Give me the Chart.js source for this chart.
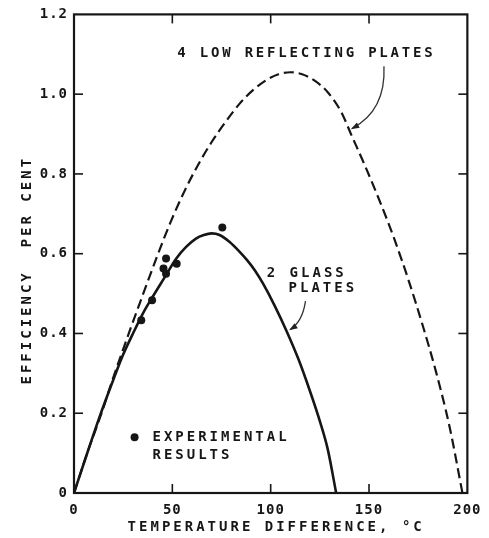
<!DOCTYPE html>
<html>
<head>
<meta charset="utf-8">
<script src="https://cdn.jsdelivr.net/npm/chart.js@4/dist/chart.umd.min.js"></script>
<style>
  html, body { margin: 0; padding: 0; background: #fff; }
  canvas { display: block; }
</style>
</head>
<body>
<canvas id="chart" width="489" height="538"></canvas>
<script>
// Collector efficiency (per cent) against temperature difference (°C)

// 2 glass plates (solid curve)
const glassTemp = [0, 7, 13, 20, 25, 30, 35, 40, 46, 52, 57, 62, 66, 70, 74, 79, 84, 88, 92, 96, 102, 108, 114, 120, 125, 129, 133.3];
const glassEff  = [0, 0.104, 0.191, 0.284, 0.347, 0.40, 0.45, 0.492, 0.54, 0.588, 0.617, 0.638, 0.647, 0.651, 0.647, 0.63, 0.606, 0.584, 0.558, 0.526, 0.47, 0.407, 0.337, 0.255, 0.18, 0.11, 0];

// 4 low reflecting plates (dashed curve)
const reflTemp = [0, 7, 14, 20, 28, 35, 42, 49, 56, 63, 70, 77, 84, 91, 98, 104, 110, 116, 122, 129, 136, 141, 148, 156, 163, 170, 177, 184, 191, 197.5];
const reflEff  = [0, 0.104, 0.20, 0.29, 0.402, 0.497, 0.59, 0.678, 0.755, 0.822, 0.88, 0.93, 0.975, 1.01, 1.036, 1.05, 1.055, 1.05, 1.035, 1.005, 0.954, 0.898, 0.82, 0.725, 0.635, 0.535, 0.425, 0.305, 0.165, 0];

// Experimental results (dots)
const expTemp = [75.4, 46.8, 52.2, 45.5, 46.8, 39.7, 34.2];
const expEff  = [0.666, 0.588, 0.575, 0.563, 0.55, 0.483, 0.433];

// Axis ticks
const xTickValues = [0, 50, 100, 150, 200];
const xTickLabels = ['0', '50', '100', '150', '200'];
const yTickValues = [0, 0.2, 0.4, 0.6, 0.8, 1.0, 1.2];
const yTickLabels = ['0', '0.2', '0.4', '0.6', '0.8', '1.0', '1.2'];

const INK = '#161616';
const MONO = '"DejaVu Sans Mono", "Liberation Mono", monospace';

function pairs(xs, ys) {
  return xs.map((x, i) => ({ x: x, y: ys[i] }));
}

function spacedText(ctx, text, x, y, align, spacing) {
  ctx.letterSpacing = spacing + 'px';
  const w = ctx.measureText(text).width;
  let sx = x;
  if (align === 'center') sx = x - (w - spacing) / 2;
  else if (align === 'right') sx = x - (w - spacing);
  ctx.textAlign = 'left';
  ctx.fillText(text, sx, y);
}

function arrow(ctx, p0, c, p1) {
  ctx.beginPath();
  ctx.moveTo(p0[0], p0[1]);
  ctx.quadraticCurveTo(c[0], c[1], p1[0], p1[1]);
  ctx.stroke();
  const dx = p1[0] - c[0], dy = p1[1] - c[1];
  const len = Math.hypot(dx, dy);
  const ux = dx / len, uy = dy / len;
  const hl = 7, hw = 3;
  ctx.beginPath();
  ctx.moveTo(p1[0] + ux * 1.5, p1[1] + uy * 1.5);
  ctx.lineTo(p1[0] - ux * hl - uy * hw, p1[1] - uy * hl + ux * hw);
  ctx.lineTo(p1[0] - ux * hl + uy * hw, p1[1] - uy * hl - ux * hw);
  ctx.closePath();
  ctx.fill();
}

const frameAndNotes = {
  id: 'frameAndNotes',
  beforeDraw(chart) {
    // slightly open spacing for the tick numerals
    chart.ctx.letterSpacing = '1px';
  },
  afterDraw(chart) {
    const ctx = chart.ctx;
    const { left, right, top, bottom } = chart.chartArea;
    const xs = chart.scales.x, ys = chart.scales.y;
    const X = v => xs.getPixelForValue(v);
    const Y = v => ys.getPixelForValue(v);

    ctx.save();
    ctx.letterSpacing = '0px';
    ctx.strokeStyle = INK;
    ctx.fillStyle = INK;

    // plot frame
    ctx.lineWidth = 2.2;
    ctx.strokeRect(left, top, right - left, bottom - top);

    // inward tick marks on all four sides
    ctx.lineWidth = 1.6;
    const tl = 9;
    const seg = (a, b, c, d) => { ctx.beginPath(); ctx.moveTo(a, b); ctx.lineTo(c, d); ctx.stroke(); };
    xTickValues.slice(1, -1).forEach(v => {
      const px = X(v);
      seg(px, bottom, px, bottom - tl);
      seg(px, top, px, top + tl);
    });
    yTickValues.slice(1, -1).forEach(v => {
      const py = Y(v);
      seg(left, py, left + tl, py);
      seg(right, py, right - tl, py);
    });

    // axis titles
    ctx.font = 'bold 14px ' + MONO;
    ctx.textBaseline = 'middle';
    spacedText(ctx, 'TEMPERATURE DIFFERENCE, °C', (left + right) / 2 + 4, bottom + 34, 'center', 3);
    ctx.save();
    ctx.translate(left - 47, (top + bottom) / 2 + 18);
    ctx.rotate(-Math.PI / 2);
    spacedText(ctx, 'EFFICIENCY  PER CENT', 0, 0, 'center', 3);
    ctx.restore();

    // curve labels
    spacedText(ctx, '4 LOW REFLECTING PLATES', X(52.5), Y(1.102), 'left', 2.8);
    spacedText(ctx, '2 GLASS', X(98), Y(0.551), 'left', 3);
    spacedText(ctx, 'PLATES', X(109.1), Y(0.514), 'left', 3);

    // pointer arrows
    ctx.letterSpacing = '0px';
    ctx.lineWidth = 1.3;
    ctx.strokeStyle = '#333';
    ctx.fillStyle = '#222';
    arrow(ctx, [X(157.6), Y(1.070)], [X(158.6), Y(0.959)], [X(141.4), Y(0.914)]);
    arrow(ctx, [X(117.7), Y(0.481)], [X(116.2), Y(0.43)], [X(110), Y(0.41)]);

    // key for the experimental dots
    ctx.fillStyle = INK;
    ctx.beginPath();
    ctx.arc(X(30.8), Y(0.140), 4, 0, Math.PI * 2);
    ctx.fill();
    spacedText(ctx, 'EXPERIMENTAL', X(39.9), Y(0.140), 'left', 3);
    spacedText(ctx, 'RESULTS', X(39.9), Y(0.095), 'left', 3);

    ctx.restore();
    ctx.letterSpacing = '0px';
  }
};

new Chart(document.getElementById('chart'), {
  type: 'line',
  data: {
    datasets: [
      {
        label: '4 low reflecting plates',
        data: pairs(reflTemp, reflEff),
        borderColor: INK,
        borderWidth: 2.2,
        borderDash: [10, 5],
        pointRadius: 0,
        fill: false,
        cubicInterpolationMode: 'monotone'
      },
      {
        label: '2 glass plates',
        data: pairs(glassTemp, glassEff),
        borderColor: INK,
        borderWidth: 2.6,
        pointRadius: 0,
        fill: false,
        cubicInterpolationMode: 'monotone'
      },
      {
        label: 'Experimental results',
        data: pairs(expTemp, expEff),
        showLine: false,
        pointRadius: 4,
        pointBackgroundColor: INK,
        pointBorderWidth: 0,
        borderColor: INK
      }
    ]
  },
  options: {
    responsive: false,
    animation: false,
    devicePixelRatio: 1,
    layout: { padding: { top: 14, right: 19, bottom: 0, left: 0 } },
    plugins: {
      legend: { display: false },
      tooltip: { enabled: false }
    },
    scales: {
      x: {
        type: 'linear',
        min: 0,
        max: 200,
        afterBuildTicks(scale) { scale.ticks = xTickValues.map(v => ({ value: v })); },
        afterFit(scale) { scale.height = 45; },
        grid: { display: false, drawTicks: false },
        border: { display: false },
        ticks: {
          padding: 9,
          maxRotation: 0,
          autoSkip: false,
          color: INK,
          font: { family: MONO, size: 14, weight: 'bold' },
          callback: (v, i) => xTickLabels[i]
        }
      },
      y: {
        type: 'linear',
        min: 0,
        max: 1.2,
        afterBuildTicks(scale) { scale.ticks = yTickValues.map(v => ({ value: v })); },
        afterFit(scale) { scale.width = 74; },
        grid: { display: false, drawTicks: false },
        border: { display: false },
        ticks: {
          padding: 6,
          autoSkip: false,
          color: INK,
          font: { family: MONO, size: 14, weight: 'bold' },
          callback: (v, i) => yTickLabels[i]
        }
      }
    }
  },
  plugins: [frameAndNotes]
});
</script>
</body>
</html>
